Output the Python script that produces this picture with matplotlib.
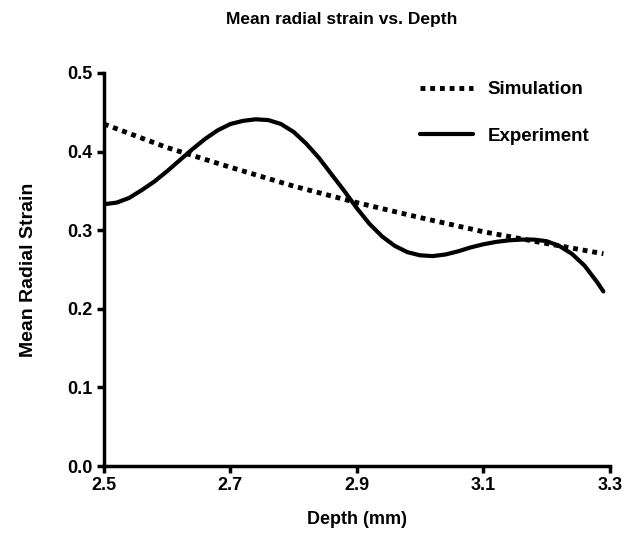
import matplotlib.pyplot as plt

# Values
sim_depth = [2.50, 2.60, 2.70, 2.80, 2.90, 3.00, 3.10, 3.20, 3.29]
sim_strain = [0.435, 0.405, 0.380, 0.356, 0.335, 0.316, 0.298, 0.283, 0.270]

exp_depth = [2.50, 2.52, 2.54, 2.56, 2.58, 2.60, 2.62, 2.64, 2.66, 2.68,
             2.70, 2.72, 2.74, 2.76, 2.78, 2.80, 2.82, 2.84, 2.86, 2.88,
             2.90, 2.92, 2.94, 2.96, 2.98, 3.00, 3.02, 3.04, 3.06, 3.08,
             3.10, 3.12, 3.14, 3.16, 3.18, 3.20, 3.22, 3.24, 3.26, 3.28, 3.29]
exp_strain = [0.333, 0.335, 0.341, 0.351, 0.362, 0.375, 0.389, 0.403, 0.416, 0.427,
              0.435, 0.439, 0.441, 0.440, 0.435, 0.425, 0.410, 0.392, 0.371, 0.350,
              0.328, 0.308, 0.292, 0.280, 0.272, 0.268, 0.267, 0.269, 0.273, 0.278,
              0.282, 0.285, 0.287, 0.288, 0.288, 0.286, 0.280, 0.270, 0.255, 0.234, 0.222]

xticks = [2.5, 2.7, 2.9, 3.1, 3.3]
yticks = [0.0, 0.1, 0.2, 0.3, 0.4, 0.5]

plt.rcParams['font.family'] = ['Liberation Sans', 'DejaVu Sans']
plt.rcParams['font.weight'] = 'bold'

fig = plt.figure(figsize=(6.26, 5.4), dpi=100)
ax = fig.add_axes([0.166, 0.137, 0.808, 0.728])

ax.plot(sim_depth, sim_strain, color='black', linestyle=(0, (1, 1)), linewidth=3.5,
        label='Simulation')
ax.plot(exp_depth, exp_strain, color='black', linestyle='-', linewidth=3,
        solid_joinstyle='round', solid_capstyle='round', label='Experiment')

ax.set_xlim(2.5, 3.3)
ax.set_ylim(0, 0.5)
ax.set_xticks(xticks)
ax.set_yticks(yticks)
ax.set_xticklabels([f'{v:.1f}' for v in xticks])
ax.set_yticklabels([f'{v:.1f}' for v in yticks])
ax.tick_params(direction='out', length=5, width=2.5, labelsize=13, pad=3)

for s in ['top', 'right']:
    ax.spines[s].set_visible(False)
for s in ['left', 'bottom']:
    ax.spines[s].set_linewidth(2.5)

ax.set_xlabel('Depth (mm)', fontsize=13, fontweight='bold', labelpad=12)
ax.set_ylabel('Mean Radial Strain', fontsize=14, fontweight='bold', labelpad=22)
fig.text(0.546, 0.963, 'Mean radial strain vs. Depth', fontsize=12.5,
         fontweight='bold', ha='center', va='center')

ax.legend(loc='upper right', frameon=False, fontsize=13.5, handlelength=2.8,
          handletextpad=0.8, labelspacing=1.56, bbox_to_anchor=(0.993, 1.022))

fig.savefig('out.png', dpi=100)
